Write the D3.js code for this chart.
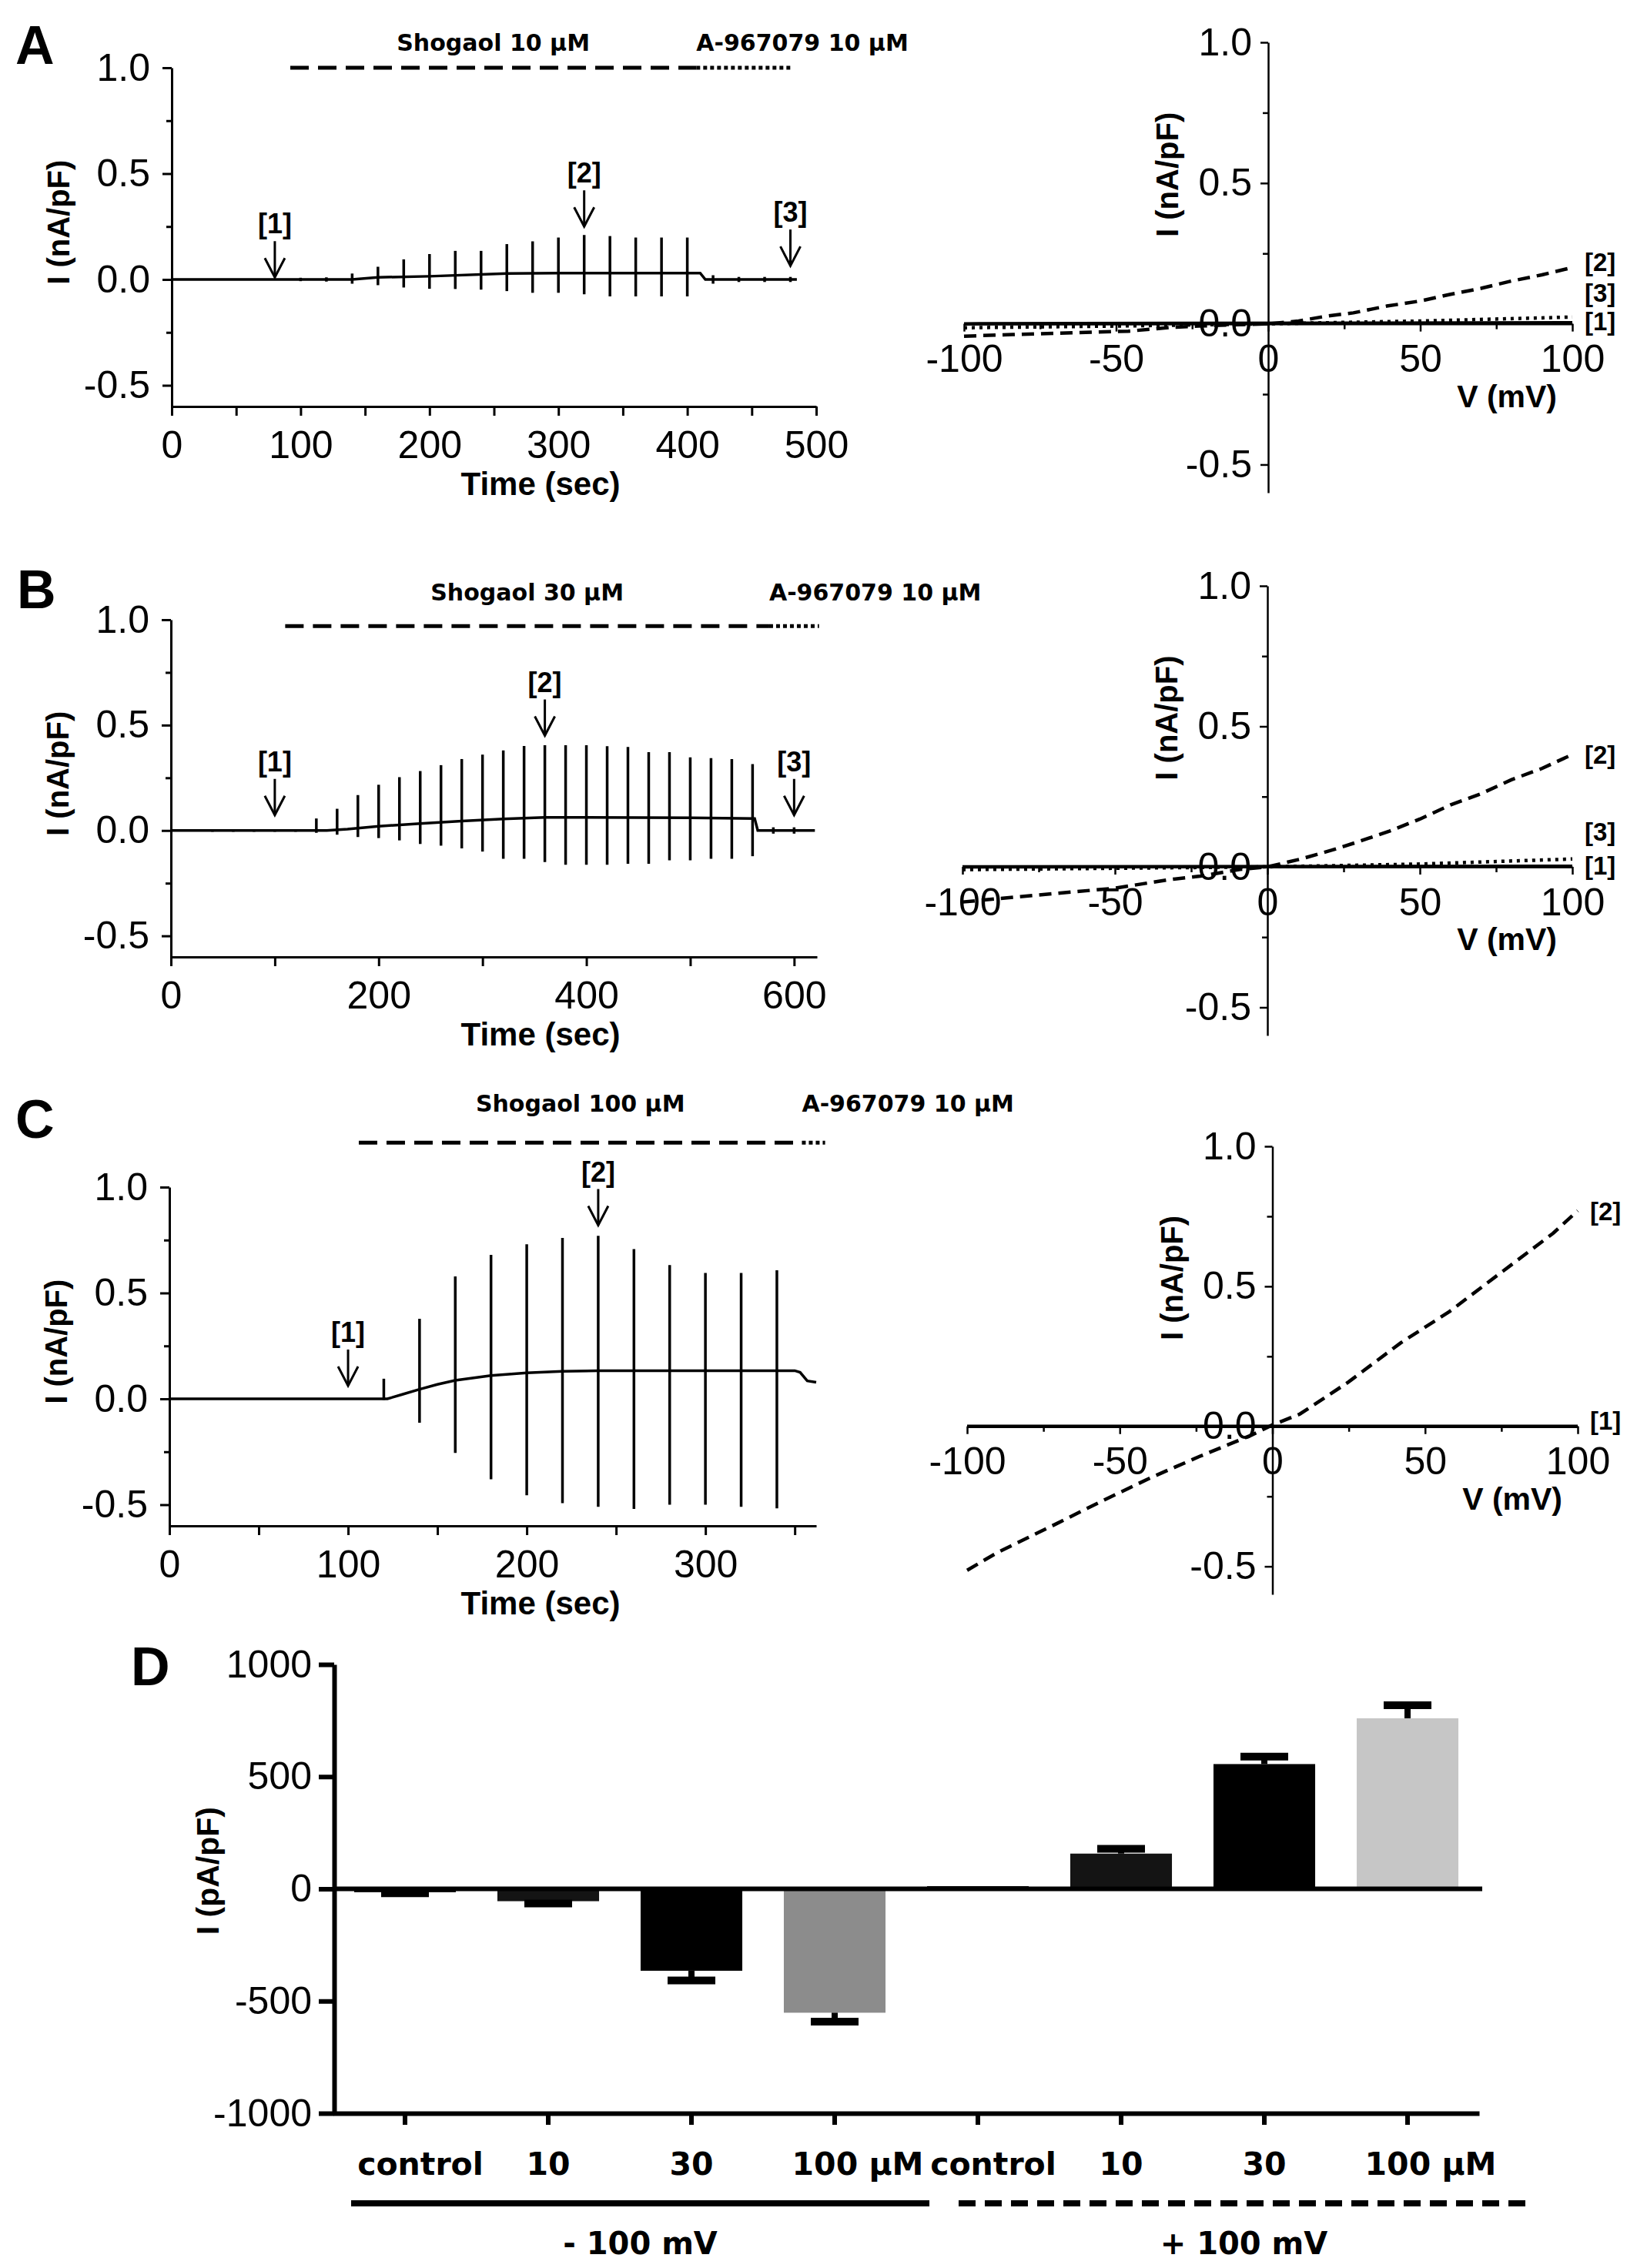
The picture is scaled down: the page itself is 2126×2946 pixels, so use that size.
<!DOCTYPE html>
<html>
<head>
<meta charset="utf-8">
<script src="https://d3js.org/d3.v7.min.js"></script>
<style>
body { margin: 0; background: #fff; }
</style>
</head>
<body>
<script>

// ---------- A : Shogaol 10 uM, time course ----------
var timeA = [0, 140, 160, 200, 260, 300, 410, 414, 485];
var baseA = [0, 0, 0.01, 0.015, 0.028, 0.03, 0.03, 0, 0];
var spikeTimeA = [100, 120, 140, 160, 180, 200, 220, 240, 260, 280, 300, 320, 340, 360, 380, 400, 420, 440, 460, 480];
var spikeUpA   = [0.008, 0.01, 0.028, 0.06, 0.095, 0.12, 0.135, 0.135, 0.167, 0.18, 0.198, 0.21, 0.205, 0.198, 0.198, 0.198, 0.02, 0.012, 0.012, 0.012];
var spikeDownA = [-0.008, -0.01, -0.02, -0.027, -0.038, -0.044, -0.045, -0.048, -0.055, -0.063, -0.063, -0.07, -0.08, -0.08, -0.08, -0.08, -0.02, -0.012, -0.012, -0.012];
var arrowTimeA = [80, 320, 480];
var arrowTipA  = [0.01, 0.25, 0.065];
var arrowNameA = ["[1]", "[2]", "[3]"];
var drugTimeA  = [92, 407, 481];
var drugLevelA = 1.0;
var ticksA = [0, 50, 100, 150, 200, 250, 300, 350, 400, 450, 500];

// ---------- B : Shogaol 30 uM, time course ----------
var timeB = [0, 150, 170, 200, 240, 280, 320, 360, 400, 500, 562, 565, 620];
var baseB = [0, 0, 0.006, 0.02, 0.033, 0.045, 0.055, 0.062, 0.062, 0.06, 0.057, 0, 0];
var spikeTimeB = [40, 60, 80, 100, 120, 140, 160, 180, 200, 220, 240, 260, 280, 300, 320, 340, 360, 380, 400, 420, 440, 460, 480, 500, 520, 540, 560, 580, 600];
var spikeUpB   = [0.006, 0.006, 0.006, 0.006, 0.006, 0.057, 0.103, 0.168, 0.217, 0.253, 0.282, 0.31, 0.339, 0.36, 0.38, 0.401, 0.405, 0.405, 0.405, 0.40, 0.396, 0.372, 0.372, 0.347, 0.343, 0.339, 0.315, 0.015, 0.015];
var spikeDownB = [-0.006, -0.006, -0.006, -0.006, -0.006, -0.011, -0.02, -0.031, -0.036, -0.047, -0.064, -0.072, -0.085, -0.10, -0.134, -0.134, -0.15, -0.163, -0.163, -0.163, -0.158, -0.158, -0.142, -0.142, -0.134, -0.134, -0.122, -0.015, -0.015];
var arrowTimeB = [100, 360, 600];
var arrowTipB  = [0.073, 0.45, 0.073];
var arrowNameB = ["[1]", "[2]", "[3]"];
var drugTimeB  = [110, 576, 624];
var drugLevelB = 0.97;
var ticksB = [0, 100, 200, 300, 400, 500, 600];

// ---------- C : Shogaol 100 uM, time course ----------
var timeC = [0, 122, 130, 140, 150, 160, 180, 200, 220, 240, 350, 353, 357, 362];
var baseC = [0, 0, 0.02, 0.045, 0.068, 0.087, 0.11, 0.123, 0.13, 0.133, 0.133, 0.125, 0.085, 0.078];
var spikeTimeC = [120, 140, 160, 180, 200, 220, 240, 260, 280, 300, 320, 340];
var spikeUpC   = [0.095, 0.378, 0.578, 0.68, 0.73, 0.76, 0.77, 0.707, 0.632, 0.595, 0.595, 0.607];
var spikeDownC = [-0.005, -0.113, -0.255, -0.38, -0.455, -0.493, -0.51, -0.52, -0.50, -0.50, -0.51, -0.517];
var arrowTimeC = [100, 240];
var arrowTipC  = [0.062, 0.82];
var arrowNameC = ["[1]", "[2]"];
var drugTimeC  = [106, 354, 367];
var drugLevelC = 1.21;
var ticksC = [0, 50, 100, 150, 200, 250, 300, 350];

// ---------- I-V curves ----------
var ivV1 = [-100, 100];
var ivA1 = [0, 0.004];
var ivA2v = [-100, -84, -64, -46, -31, -23, -10, 0, 10, 19, 28, 39, 50, 60, 70, 80, 90, 100];
var ivA2  = [-0.044, -0.038, -0.032, -0.026, -0.012, -0.008, -0.003, 0, 0.01, 0.027, 0.039, 0.063, 0.081, 0.105, 0.126, 0.152, 0.174, 0.2];
var ivA3v = [-100, -50, 0, 50, 100];
var ivA3  = [-0.014, -0.008, 0, 0.01, 0.024];
var ivLabelA = [["[2]", 0.22], ["[3]", 0.112], ["[1]", 0.01]];

var ivB1 = [0, 0.002];
var ivB2v = [-100, -75, -50, -32, -22, -9, 0, 11, 21, 30, 40, 50, 60, 70, 80, 90, 100];
var ivB2  = [-0.125, -0.1, -0.076, -0.045, -0.033, -0.009, 0, 0.028, 0.059, 0.09, 0.127, 0.17, 0.22, 0.26, 0.31, 0.35, 0.4];
var ivB3v = [-100, -50, 0, 50, 100];
var ivB3  = [-0.01, -0.005, 0, 0.01, 0.028];
var ivLabelB = [["[2]", 0.40], ["[3]", 0.126], ["[1]", 0.006]];

var ivC1 = [0, 0];
var ivC2v = [-100, -90, -73, -57, -40, -24, -7, 0, 9, 25, 42, 58, 75, 92, 100];
var ivC2  = [-0.514, -0.45, -0.36, -0.273, -0.184, -0.108, -0.032, 0.005, 0.044, 0.159, 0.298, 0.41, 0.55, 0.69, 0.77];
var ivLabelC = [["[2]", 0.768], ["[1]", 0.02]];

var ivTicks = [-100, -50, 0, 50, 100];
var ivMinor = [-75, -25, 25, 75];
var yMajor = [-0.5, 0, 0.5, 1.0];
var yMinor = [-0.25, 0.25, 0.75];

// ---------- D : bar chart ----------
var barLabels = ["control", "10", "30", "100 \u00b5M", "control", "10", "30", "100 \u00b5M"];
var barMeans  = [-15, -55, -365, -552, 12, 157, 556, 760];
var barSems   = [5, 10, 43, 40, 0, 21, 33, 58];
var dTicks    = [-1000, -500, 0, 500, 1000];


var FONT = "'Liberation Sans', Arial, Helvetica, sans-serif";
var WIDE = "'DejaVu Sans', Verdana, sans-serif";

var svg = d3.select("body")
 .append("svg")
 .attr("width", 2126)
 .attr("height", 2946)
 .style("background", "#fff");

function styleAxis(sel, w, fs) {
  sel.attr("font-family", FONT).attr("font-size", fs);
  sel.select(".domain").attr("stroke", "#000").attr("stroke-width", w);
  sel.selectAll(".tick line").attr("stroke", "#000").attr("stroke-width", w);
  sel.selectAll(".tick text").attr("fill", "#000");
}

function label(g, x, y, txt, size, family, weight) {
  return g.append("text")
   .attr("x", x)
   .attr("y", y)
   .attr("font-family", family || FONT)
   .attr("font-weight", weight || "bold")
   .attr("font-size", size)
   .attr("fill", "#000")
   .text(txt);
}

// time course panel
function drawTime(p) {
  var x = d3.scaleLinear().domain([0, p.tmax]).range([p.left, p.right]);
  var y = d3.scaleLinear().domain([-0.6, 1.0]).range([p.bottom, p.top]);
  var g = svg.append("g");

  g.append("g")
   .attr("transform", "translate(0," + p.bottom + ")")
   .call(d3.axisBottom(x).tickValues(p.ticks).tickSize(12).tickSizeOuter(0).tickPadding(19)
     .tickFormat(function (d) { return d % p.labelStep == 0 ? String(d) : ""; }))
   .call(styleAxis, 3, 50);

  g.append("g")
   .attr("transform", "translate(" + p.left + ",0)")
   .call(d3.axisLeft(y).tickValues(yMajor).tickSize(12).tickSizeOuter(0).tickPadding(16)
     .tickFormat(function (d) { return d.toFixed(1); }))
   .call(styleAxis, 3, 50);

  g.append("g")
   .attr("transform", "translate(" + p.left + ",0)")
   .call(d3.axisLeft(y).tickValues(yMinor).tickSize(7).tickFormat(""))
   .call(styleAxis, 3, 50)
   .select(".domain").remove();

  label(g, p.titleX, p.bottom + 115, "Time (sec)", 42).attr("text-anchor", "middle");
  label(g, 0, 0, "I (nA/pF)", 40)
   .attr("text-anchor", "middle")
   .attr("transform", "translate(" + (p.left - 133) + "," + y(0.27) + ") rotate(-90)");
  label(g, p.letterX, p.letterY, p.letter, 70);

  // trace: slow current plus the voltage-ramp spikes
  var line = d3.line()
   .x(function (d) { return x(d[0]); })
   .y(function (d) { return y(d[1]); });
  g.append("path")
   .datum(d3.zip(p.time, p.base))
   .attr("d", line)
   .attr("fill", "none")
   .attr("stroke", "#000")
   .attr("stroke-width", 3.5);

  g.selectAll(".spike")
   .data(d3.range(p.st.length))
   .enter()
   .append("line")
   .attr("x1", function (i) { return x(p.st[i]); })
   .attr("x2", function (i) { return x(p.st[i]); })
   .attr("y1", function (i) { return y(p.sd[i]); })
   .attr("y2", function (i) { return y(p.su[i]); })
   .attr("stroke", "#000")
   .attr("stroke-width", 3.5);

  // arrows [1] [2] [3]
  p.at.forEach(function (t, i) {
    var ax = x(t), ty = y(p.tip[i]);
    g.append("line")
     .attr("x1", ax).attr("x2", ax)
     .attr("y1", ty - 47).attr("y2", ty)
     .attr("stroke", "#000").attr("stroke-width", 3);
    g.append("path")
     .attr("d", "M" + (ax - 13) + "," + (ty - 25) + "L" + ax + "," + ty + "L" + (ax + 13) + "," + (ty - 25))
     .attr("fill", "none").attr("stroke", "#000").attr("stroke-width", 3);
    label(g, ax, ty - 57, p.names[i], 36).attr("text-anchor", "middle");
  });

  // drug application bars
  var ly = y(p.level);
  g.append("line")
   .attr("x1", x(p.drug[0])).attr("x2", x(p.drug[1]))
   .attr("y1", ly).attr("y2", ly)
   .attr("stroke", "#000").attr("stroke-width", 5)
   .attr("stroke-dasharray", "24,12");
  g.append("line")
   .attr("x1", x(p.drug[1])).attr("x2", x(p.drug[2]))
   .attr("y1", ly).attr("y2", ly)
   .attr("stroke", "#000").attr("stroke-width", 5)
   .attr("stroke-dasharray", "5,4");
  label(g, x((p.drug[0] + p.drug[1]) / 2), p.textY, p.shogaol, 30, WIDE).attr("text-anchor", "middle");
  label(g, x(p.drug[1]), p.textY, "A-967079 10 \u00b5M", 30, WIDE);
}

// I-V panel
function drawIV(p) {
  var x = d3.scaleLinear().domain([-100, 100]).range([p.left, p.right]);
  var y = d3.scaleLinear().domain([-0.6, 1.0]).range([p.bottom, p.top]);
  var g = svg.append("g");

  g.append("g")
   .attr("transform", "translate(0," + y(0) + ")")
   .call(d3.axisBottom(x).tickValues(ivTicks).tickSize(10).tickSizeOuter(0).tickPadding(17)
     .tickFormat(function (d) { return String(d); }))
   .call(styleAxis, 2.5, 50);
  g.append("g")
   .attr("transform", "translate(0," + y(0) + ")")
   .call(d3.axisBottom(x).tickValues(ivMinor).tickSize(7).tickFormat(""))
   .call(styleAxis, 2.5, 50)
   .select(".domain").remove();

  g.append("g")
   .attr("transform", "translate(" + x(0) + ",0)")
   .call(d3.axisLeft(y).tickValues(yMajor).tickSize(10).tickSizeOuter(0).tickPadding(11)
     .tickFormat(function (d) { return d.toFixed(1); }))
   .call(styleAxis, 2.5, 50);
  g.append("g")
   .attr("transform", "translate(" + x(0) + ",0)")
   .call(d3.axisLeft(y).tickValues(yMinor).tickSize(7).tickFormat(""))
   .call(styleAxis, 2.5, 50)
   .select(".domain").remove();

  label(g, x(100) - 20, y(0) + 108, "V (mV)", 41).attr("text-anchor", "end");
  label(g, 0, 0, "I (nA/pF)", 40)
   .attr("text-anchor", "middle")
   .attr("transform", "translate(" + (x(0) - 117) + "," + y(0.53) + ") rotate(-90)");

  var line = d3.line()
   .x(function (d) { return x(d[0]); })
   .y(function (d) { return y(d[1]); });

  p.traces.forEach(function (t) {
    g.append("path")
     .datum(d3.zip(t.v, t.i))
     .attr("d", line)
     .attr("fill", "none")
     .attr("stroke", "#000")
     .attr("stroke-width", t.w)
     .attr("stroke-dasharray", t.dash);
  });

  p.labels.forEach(function (l) {
    label(g, x(100) + 16, y(l[1]) + 12, l[0], 33);
  });
}

drawTime({
  left: 223, right: 1060, top: 88, bottom: 528, tmax: 500,
  ticks: ticksA, labelStep: 100, titleX: 702,
  letter: "A", letterX: 20, letterY: 83,
  time: timeA, base: baseA, st: spikeTimeA, su: spikeUpA, sd: spikeDownA,
  at: arrowTimeA, tip: arrowTipA, names: arrowNameA,
  drug: drugTimeA, level: drugLevelA, textY: 66, shogaol: "Shogaol 10 \u00b5M"
});
drawTime({
  left: 222, right: 1061, top: 805, bottom: 1243, tmax: 622,
  ticks: ticksB, labelStep: 200, titleX: 702,
  letter: "B", letterX: 22, letterY: 790,
  time: timeB, base: baseB, st: spikeTimeB, su: spikeUpB, sd: spikeDownB,
  at: arrowTimeB, tip: arrowTipB, names: arrowNameB,
  drug: drugTimeB, level: drugLevelB, textY: 780, shogaol: "Shogaol 30 \u00b5M"
});
drawTime({
  left: 220, right: 1060, top: 1542, bottom: 1982, tmax: 362,
  ticks: ticksC, labelStep: 100, titleX: 702,
  letter: "C", letterX: 20, letterY: 1478,
  time: timeC, base: baseC, st: spikeTimeC, su: spikeUpC, sd: spikeDownC,
  at: arrowTimeC, tip: arrowTipC, names: arrowNameC,
  drug: drugTimeC, level: drugLevelC, textY: 1444, shogaol: "Shogaol 100 \u00b5M"
});

drawIV({
  left: 1252, right: 2042, top: 55, bottom: 640,
  traces: [
    { v: ivV1, i: ivA1, w: 4.5, dash: null },
    { v: ivA2v, i: ivA2, w: 4.5, dash: "16,9" },
    { v: ivA3v, i: ivA3, w: 4.5, dash: "4,6" }
  ],
  labels: ivLabelA
});
drawIV({
  left: 1250, right: 2042, top: 761, bottom: 1345,
  traces: [
    { v: ivV1, i: ivB1, w: 4.5, dash: null },
    { v: ivB2v, i: ivB2, w: 4.5, dash: "16,9" },
    { v: ivB3v, i: ivB3, w: 4.5, dash: "4,6" }
  ],
  labels: ivLabelB
});
drawIV({
  left: 1256, right: 2049, top: 1489, bottom: 2071,
  traces: [
    { v: ivV1, i: ivC1, w: 4.5, dash: null },
    { v: ivC2v, i: ivC2, w: 4.5, dash: "16,9" }
  ],
  labels: ivLabelC
});

// ---------- D ----------
var barFill = ["#000", "#141414", "#000", "#8c8c8c", "#000", "#141414", "#000", "#c6c6c6"];

var xD = d3.scaleBand()
 .domain(d3.range(barLabels.length))
 .range([433, 1921])
 .paddingInner(0.29)
 .paddingOuter(0.145);
var yD = d3.scaleLinear().domain([-1000, 1000]).range([2745, 2162]);
var gD = svg.append("g");

gD.append("g")
 .attr("transform", "translate(434,0)")
 .call(d3.axisLeft(yD).tickValues(dTicks).tickSize(20).tickSizeOuter(0).tickPadding(9)
   .tickFormat(function (d) { return String(d); }))
 .call(styleAxis, 6, 50);
gD.append("g")
 .attr("transform", "translate(0," + yD(-1000) + ")")
 .call(d3.axisBottom(xD).tickSize(15).tickSizeOuter(0).tickFormat(""))
 .call(styleAxis, 6, 50);

gD.selectAll(".bar")
 .data(barMeans)
 .enter()
 .append("rect")
 .attr("x", function (d, i) { return xD(i); })
 .attr("width", xD.bandwidth())
 .attr("y", function (d) { return Math.min(yD(d), yD(0)); })
 .attr("height", function (d) { return Math.abs(yD(d) - yD(0)); })
 .style("fill", function (d, i) { return barFill[i]; });

// zero line
gD.append("line")
 .attr("x1", 434).attr("x2", 1925)
 .attr("y1", yD(0)).attr("y2", yD(0))
 .attr("stroke", "#000").attr("stroke-width", 6);

// error bars, drawn away from zero
barMeans.forEach(function (m, i) {
  if (!barSems[i]) return;
  var cx = xD(i) + xD.bandwidth() / 2;
  var end = m + (m < 0 ? -barSems[i] : barSems[i]);
  gD.append("line")
   .attr("x1", cx).attr("x2", cx)
   .attr("y1", yD(m)).attr("y2", yD(end))
   .attr("stroke", "#000").attr("stroke-width", 8);
  gD.append("line")
   .attr("x1", cx - 31).attr("x2", cx + 31)
   .attr("y1", yD(end)).attr("y2", yD(end))
   .attr("stroke", "#000").attr("stroke-width", 10);
});

barLabels.forEach(function (t, i) {
  var dx = t == "control" ? 20 : (t.length > 3 ? 30 : 0);
  label(gD, xD(i) + xD.bandwidth() / 2 + dx, 2825, t, 41, WIDE).attr("text-anchor", "middle");
});

// -100 mV / +100 mV group bars
var g1a = xD(0) - 4, g1b = xD(3) + xD.bandwidth() + 57;
var g2a = xD(4) + 41, g2b = xD(7) + xD.bandwidth() + 92;
gD.append("line")
 .attr("x1", g1a).attr("x2", g1b).attr("y1", 2862).attr("y2", 2862)
 .attr("stroke", "#000").attr("stroke-width", 8);
gD.append("line")
 .attr("x1", g2a).attr("x2", g2b).attr("y1", 2862).attr("y2", 2862)
 .attr("stroke", "#000").attr("stroke-width", 8)
 .attr("stroke-dasharray", "22,12");
label(gD, (g1a + g1b) / 2, 2928, "- 100 mV", 40, WIDE).attr("text-anchor", "middle");
label(gD, (g2a + g2b) / 2, 2928, "+ 100 mV", 40, WIDE).attr("text-anchor", "middle");

label(gD, 0, 0, "I (pA/pF)", 41)
 .attr("text-anchor", "middle")
 .attr("transform", "translate(284," + yD(80) + ") rotate(-90)");
label(gD, 170, 2189, "D", 70);

</script>
</body>
</html>
